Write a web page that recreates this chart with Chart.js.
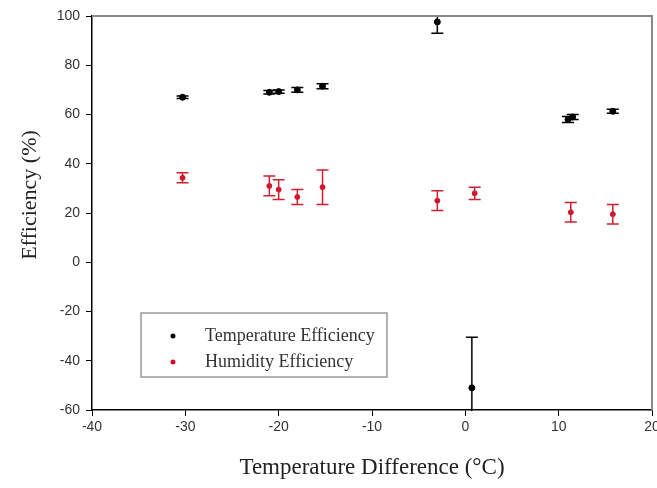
<!DOCTYPE html>
<html>
<head>
<meta charset="utf-8">
<script src="https://cdn.jsdelivr.net/npm/chart.js@4.4.1/dist/chart.umd.min.js"></script>
<style>
  html, body { margin: 0; padding: 0; background: #fff; }
  #wrap { width: 657px; height: 488px; }
</style>
</head>
<body>
<div id="wrap"><canvas id="chart"></canvas></div>
<script>
// temperature efficiency
const tempX = [-30.3, -21, -20, -18, -15.3, -3, 0.7, 11, 11.5, 15.8];
const tempY = [67, 69, 69.3, 70, 71.5, 97.6, -51, 58, 59, 61.3];
const tempErr = [0.5, 0.7, 0.7, 1, 1, 4.6, 20.5, 1.2, 1, 0.8];

// humidity efficiency
const humX = [-30.3, -21, -20, -18, -15.3, -3, 1, 11.3, 15.8];
const humY = [34.3, 31, 29.5, 26.5, 30.5, 25, 28, 20.3, 19.5];
const humErr = [2, 4, 4, 3, 7, 4, 2.5, 4, 4];

const xTicks = [-40, -30, -20, -10, 0, 10, 20];
const yTicks = [-60, -40, -20, 0, 20, 40, 60, 80, 100];

const errors = [tempErr, humErr];
const serif = '"Liberation Serif", "Times New Roman", serif';

function toPoints(xs, ys) {
    return xs.map((x, i) => ({ x: x, y: ys[i] }));
}

// vertical error bars with caps
const errorBars = {
    id: 'errorBars',
    afterDatasetsDraw(chart) {
        const ctx = chart.ctx;
        const area = chart.chartArea;
        const xs = chart.scales.x, ys = chart.scales.y;
        ctx.save();
        ctx.beginPath();
        ctx.rect(area.left, area.top - 1, area.right - area.left, area.bottom - area.top + 2);
        ctx.clip();
        chart.data.datasets.forEach((ds, di) => {
            ctx.strokeStyle = ds.borderColor;
            ctx.lineWidth = 1.5;
            ds.data.forEach((p, i) => {
                const e = errors[di][i];
                const px = xs.getPixelForValue(p.x);
                const top = ys.getPixelForValue(p.y + e);
                const bot = ys.getPixelForValue(p.y - e);
                ctx.beginPath();
                ctx.moveTo(px, top); ctx.lineTo(px, bot);
                ctx.moveTo(px - 6, top); ctx.lineTo(px + 6, top);
                ctx.moveTo(px - 6, bot); ctx.lineTo(px + 6, bot);
                ctx.stroke();
            });
        });
        ctx.restore();
    }
};

// top/right frame lines, y title and the legend box inside the plot
const frameAndLegend = {
    id: 'frameAndLegend',
    afterDraw(chart) {
        const ctx = chart.ctx;
        const a = chart.chartArea;
        ctx.save();
        ctx.strokeStyle = '#888';
        ctx.lineWidth = 2;
        ctx.beginPath();
        ctx.moveTo(a.left, a.top); ctx.lineTo(a.right, a.top); ctx.lineTo(a.right, a.bottom);
        ctx.stroke();

        // y axis title (sits a little above centre in the original)
        ctx.save();
        ctx.translate(30, 195);
        ctx.rotate(-Math.PI / 2);
        ctx.font = '22px ' + serif;
        ctx.fillStyle = '#222';
        ctx.textAlign = 'center';
        ctx.textBaseline = 'middle';
        ctx.fillText('Efficiency (%)', 0, 0);
        ctx.restore();

        ctx.strokeStyle = '#999';
        ctx.lineWidth = 1.5;
        ctx.strokeRect(141, 313, 246, 64);
        ctx.font = '18px ' + serif;
        ctx.textBaseline = 'middle';
        chart.data.datasets.forEach((ds, i) => {
            const y = 336 + i * 26;
            ctx.fillStyle = ds.backgroundColor;
            ctx.beginPath();
            ctx.arc(173, y, 2.5, 0, Math.PI * 2);
            ctx.fill();
            ctx.fillStyle = '#333';
            ctx.fillText(ds.label, 205, y);
        });
        ctx.restore();
    }
};

new Chart('chart', {
    type: 'scatter',
    data: {
        datasets: [{
            label: 'Temperature Efficiency',
            data: toPoints(tempX, tempY),
            backgroundColor: '#000',
            borderColor: '#000',
            pointRadius: 3,
            pointHoverRadius: 3
        }, {
            label: 'Humidity Efficiency',
            data: toPoints(humX, humY),
            backgroundColor: '#c8102e',
            borderColor: '#d0202e',
            pointRadius: 2.5,
            pointHoverRadius: 2.5
        }]
    },
    options: {
        responsive: true,
        maintainAspectRatio: false,
        animation: false,
        layout: { padding: { top: 16, right: 5, left: 0, bottom: 0 } },
        plugins: {
            legend: { display: false },
            tooltip: { enabled: false }
        },
        scales: {
            x: {
                type: 'linear',
                min: -40,
                max: 20,
                afterBuildTicks: scale => { scale.ticks = xTicks.map(v => ({ value: v })); },
                afterFit: scale => {
                    scale.height = 78;
                    scale.paddingRight = 0;
                    scale.paddingLeft = 0;
                },
                grid: { drawOnChartArea: false, drawTicks: true, tickLength: 6, color: '#000' },
                border: { color: '#000', width: 1.5 },
                ticks: { color: '#333', font: { family: 'Arial, "Liberation Sans", sans-serif', size: 14 }, padding: 3, maxRotation: 0 },
                title: {
                    display: true,
                    text: 'Temperature Difference (°C)',
                    color: '#222',
                    font: { family: serif, size: 23 },
                    padding: { top: 4, bottom: 6 }
                }
            },
            y: {
                type: 'linear',
                min: -60,
                max: 100,
                afterBuildTicks: scale => { scale.ticks = yTicks.map(v => ({ value: v })); },
                afterFit: scale => { scale.width = 92; },
                grid: { drawOnChartArea: false, drawTicks: true, tickLength: 6, color: '#000' },
                border: { color: '#000', width: 1.5 },
                ticks: { color: '#333', font: { family: 'Arial, "Liberation Sans", sans-serif', size: 14 }, padding: 6 }
            }
        }
    },
    plugins: [errorBars, frameAndLegend]
});
</script>
</body>
</html>
